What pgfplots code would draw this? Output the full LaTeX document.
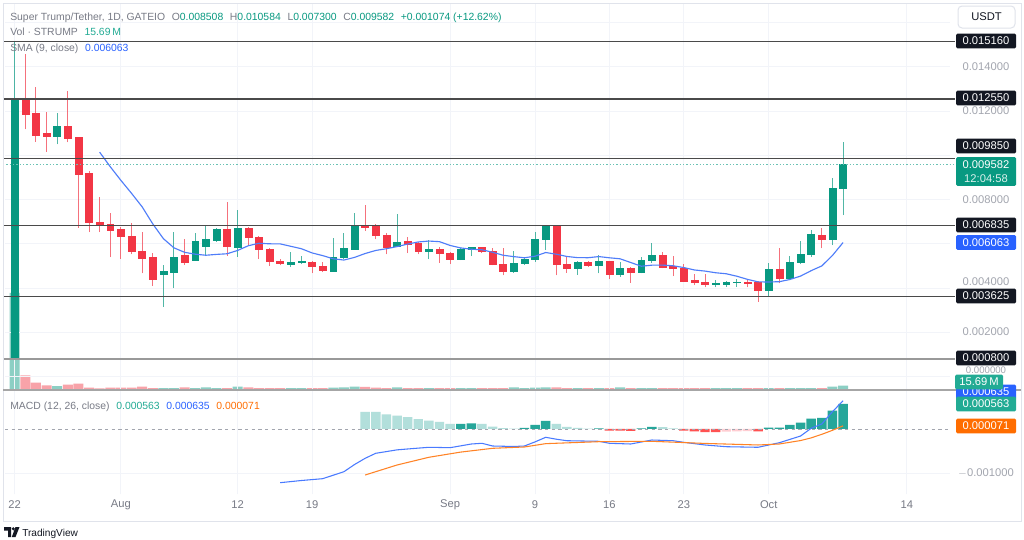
\documentclass[border=0pt]{standalone}
\usepackage{fontspec}
\setmainfont{Liberation Sans}
\usepackage{pgfplots}
\usepackage{pgfplotstable}
\pgfplotsset{compat=1.18}

\definecolor{upc}{HTML}{089981}
\definecolor{dnc}{HTML}{F23645}
\definecolor{volup}{HTML}{8CCFC4}
\definecolor{voldn}{HTML}{F8A3A9}
\definecolor{smac}{HTML}{4F7DF9}
\definecolor{macdc}{HTML}{2962FF}
\definecolor{sigc}{HTML}{FF6D00}
\definecolor{hdark}{HTML}{26A69A}
\definecolor{hlight}{HTML}{B2DFDB}
\definecolor{hred}{HTML}{FF5252}
\definecolor{hpink}{HTML}{FFCDD2}
\definecolor{txtg}{HTML}{787B86}
\definecolor{axg}{HTML}{A3A6AF}
\definecolor{gridc}{HTML}{F2F4F9}
\definecolor{lvl}{HTML}{4A4A4A}
\definecolor{boxk}{HTML}{131722}
\definecolor{tealv}{HTML}{22AB94}
\definecolor{framec}{HTML}{E0E3EB}

\newcommand\hdr{\fontsize{7.8pt}{9pt}\selectfont}
\newcommand\axf{\fontsize{8.4pt}{10pt}\selectfont}

\pgfplotstableread{
d o h l c v up
0 0.00080 0.01516 0.00080 0.01255 354.1 1
1 0.01254 0.01458 0.01118 0.01187 53.7 0
2 0.01190 0.01308 0.01062 0.01091 26.6 0
3 0.01098 0.01198 0.01017 0.01085 17.2 0
4 0.01085 0.01193 0.01050 0.01133 14.6 1
5 0.01133 0.01291 0.01059 0.01077 19.3 0
6 0.01080 0.01085 0.00673 0.00917 23.0 0
7 0.00919 0.00928 0.00653 0.00696 8.4 0
8 0.00699 0.00813 0.00653 0.00690 6.2 0
9 0.00690 0.00738 0.00540 0.00663 8.4 0
10 0.00666 0.00678 0.00531 0.00633 8.4 0
11 0.00636 0.00696 0.00553 0.00565 8.4 0
12 0.00568 0.00653 0.00467 0.00535 12.0 0
13 0.00538 0.00558 0.00410 0.00440 7.3 0
14 0.00465 0.00503 0.00316 0.00476 7.3 1
15 0.00473 0.00654 0.00402 0.00542 7.3 1
16 0.00550 0.00621 0.00505 0.00515 9.9 0
17 0.00527 0.00651 0.00523 0.00613 7.3 1
18 0.00588 0.00681 0.00545 0.00621 9.9 1
19 0.00618 0.00673 0.00609 0.00667 7.3 1
20 0.00666 0.00791 0.00547 0.00591 7.3 0
21 0.00587 0.00753 0.00542 0.00672 12.0 1
22 0.00672 0.00678 0.00595 0.00630 9.9 0
23 0.00630 0.00636 0.00531 0.00576 7.3 0
24 0.00577 0.00580 0.00502 0.00520 7.3 0
25 0.00523 0.00531 0.00503 0.00512 7.3 0
26 0.00509 0.00564 0.00497 0.00515 7.3 1
27 0.00517 0.00545 0.00509 0.00522 7.3 1
28 0.00518 0.00523 0.00467 0.00497 7.3 0
29 0.00497 0.00520 0.00473 0.00482 7.3 0
30 0.00478 0.00625 0.00478 0.00541 8.4 1
31 0.00540 0.00651 0.00531 0.00580 9.9 1
32 0.00576 0.00741 0.00573 0.00684 12.0 1
33 0.00684 0.00775 0.00660 0.00677 11.0 0
34 0.00678 0.00690 0.00621 0.00637 8.4 0
35 0.00639 0.00651 0.00553 0.00585 7.3 0
36 0.00588 0.00735 0.00585 0.00609 9.9 1
37 0.00610 0.00630 0.00558 0.00600 7.3 0
38 0.00603 0.00610 0.00553 0.00568 7.3 0
39 0.00569 0.00618 0.00531 0.00577 7.3 1
40 0.00576 0.00588 0.00515 0.00556 7.3 0
41 0.00558 0.00564 0.00509 0.00529 7.3 0
42 0.00529 0.00580 0.00527 0.00577 7.3 1
43 0.00577 0.00588 0.00545 0.00583 7.3 1
44 0.00583 0.00588 0.00558 0.00565 7.3 0
45 0.00568 0.00580 0.00503 0.00506 7.3 0
46 0.00508 0.00583 0.00458 0.00478 7.3 0
47 0.00478 0.00569 0.00470 0.00512 9.9 1
48 0.00511 0.00542 0.00505 0.00531 7.3 1
49 0.00531 0.00654 0.00520 0.00621 8.4 1
50 0.00621 0.00681 0.00573 0.00678 9.9 1
51 0.00678 0.00681 0.00458 0.00508 9.9 0
52 0.00508 0.00542 0.00470 0.00491 7.3 0
53 0.00491 0.00524 0.00461 0.00518 7.3 1
54 0.00518 0.00524 0.00497 0.00503 7.3 0
55 0.00503 0.00550 0.00467 0.00523 7.3 1
56 0.00523 0.00524 0.00440 0.00464 7.3 0
57 0.00464 0.00520 0.00452 0.00490 9.9 1
58 0.00490 0.00494 0.00425 0.00470 7.3 0
59 0.00470 0.00542 0.00467 0.00527 7.3 1
60 0.00527 0.00603 0.00515 0.00550 7.3 1
61 0.00550 0.00565 0.00490 0.00494 7.3 0
62 0.00497 0.00545 0.00455 0.00490 7.3 0
63 0.00490 0.00509 0.00429 0.00432 7.3 0
64 0.00434 0.00464 0.00414 0.00425 7.3 0
65 0.00427 0.00464 0.00404 0.00418 7.3 0
66 0.00419 0.00437 0.00404 0.00422 7.3 1
67 0.00419 0.00434 0.00407 0.00429 7.3 1
68 0.00425 0.00440 0.00407 0.00427 7.3 1
69 0.00429 0.00437 0.00404 0.00422 7.3 0
70 0.00425 0.00431 0.00339 0.00392 7.3 0
71 0.00392 0.00512 0.00365 0.00485 7.3 1
72 0.00485 0.00580 0.00422 0.00445 7.3 0
73 0.00445 0.00545 0.00437 0.00515 7.3 1
74 0.00515 0.00615 0.00509 0.00555 7.3 1
75 0.00553 0.00663 0.00542 0.00644 7.3 1
76 0.00640 0.00671 0.00580 0.00621 7.3 0
77 0.00621 0.00897 0.00595 0.00851 12.0 1
78 0.008508 0.010584 0.00730 0.009582 15.69 1
}\candles

\pgfplotstableread{
d s
8 0.010146
9 0.009488
10 0.008872
11 0.008288
12 0.007677
13 0.006907
14 0.006239
15 0.005822
16 0.005621
17 0.005536
18 0.005489
19 0.005527
20 0.005556
21 0.005708
22 0.005919
23 0.006030
24 0.006006
25 0.006002
26 0.005893
27 0.005783
28 0.005594
29 0.005473
30 0.005328
31 0.005272
32 0.005392
33 0.005567
34 0.005706
35 0.005783
36 0.005880
37 0.005994
38 0.006090
39 0.006130
40 0.006103
41 0.005931
42 0.005820
43 0.005760
44 0.005738
45 0.005623
46 0.005488
47 0.005426
48 0.005374
49 0.005447
50 0.005612
51 0.005536
52 0.005433
53 0.005381
54 0.005378
55 0.005428
56 0.005374
57 0.005329
58 0.005161
59 0.004993
60 0.005040
61 0.005043
62 0.005012
63 0.004933
64 0.004824
65 0.004773
66 0.004698
67 0.004652
68 0.004541
69 0.004399
70 0.004286
71 0.004280
72 0.004294
73 0.004394
74 0.004547
75 0.004793
76 0.005007
77 0.005478
78 0.006063
}\smatab

\pgfplotstableread{
d m
25 -0.001209
27 -0.001160
29 -0.001119
31 -0.000962
32 -0.000800
33 -0.000660
34 -0.000547
36 -0.000470
37 -0.000450
39 -0.000412
41 -0.000421
43 -0.000338
44 -0.000322
45 -0.000383
47 -0.000394
48 -0.000383
49 -0.000290
50 -0.000187
51 -0.000230
52 -0.000264
55 -0.000277
56 -0.000322
58 -0.000338
60 -0.000248
62 -0.000264
63 -0.000300
65 -0.000360
67 -0.000399
70 -0.000412
72 -0.000309
74 -0.000158
75 0.000016
76 0.000113
77 0.000390
78 0.000635
}\macdtab

\pgfplotstableread{
d s
33 -0.001036
36 -0.000811
39 -0.000637
42 -0.000520
45 -0.000435
48 -0.000405
50 -0.000330
55 -0.000286
60 -0.000277
65 -0.000325
70 -0.000360
72 -0.000338
74 -0.000260
75 -0.000200
76 -0.000120
77 -0.000030
78 0.000071
}\sigtab

\pgfplotstableread{
d hv hc
33 0.000383 2
34 0.000383 2
35 0.000331 2
36 0.000300 2
37 0.000270 2
38 0.000225 2
39 0.000187 2
40 0.000158 2
41 0.000113 2
42 0.000118 1
43 0.000128 1
44 0.000113 2
45 0.000052 2
46 0.000020 2
47 0.000008 2
48 0.000023 1
49 0.000090 1
50 0.000180 1
51 0.000113 2
52 0.000045 2
53 0.000023 2
54 0.000008 2
55 0.000016 1
56 -0.000035 3
57 -0.000038 3
58 -0.000040 3
59 0.000016 1
60 0.000045 1
61 0.000043 2
62 0.000016 2
63 -0.000038 3
64 -0.000052 3
65 -0.000068 3
66 -0.000070 3
67 -0.000061 4
68 -0.000052 4
69 -0.000050 4
70 -0.000055 3
71 0.000029 1
72 0.000030 1
73 0.000090 1
74 0.000142 1
75 0.000232 1
76 0.000248 1
77 0.000412 1
78 0.000563 1
}\histtab

\begin{document}
\begin{tikzpicture}[x=0.75pt,y=-0.75pt]
\useasboundingbox (0,0) rectangle (1024,539);
\fill[white] (0,0) rectangle (1024,539);

% ---------- volume (behind) ----------
\begin{axis}[at={(3.75pt,-292.5pt)}, anchor=south west, scale only axis,
  width=708.75pt, height=289.5pt,
  xmin=-0.913, xmax=88.07, ymin=0, ymax=1408.9, hide axis]
\addplot[ybar, bar width=7.5pt, bar shift=0pt, fill=volup, draw=none,
  restrict expr to domain={\thisrow{up}}{0.5:1.5}] table[x=d,y=v]{\candles};
\addplot[ybar, bar width=7.5pt, bar shift=0pt, fill=voldn, draw=none,
  restrict expr to domain={\thisrow{up}}{-0.5:0.5}] table[x=d,y=v]{\candles};
\end{axis}

% ---------- main price pane ----------
\begin{axis}[at={(3.75pt,-292.5pt)}, anchor=south west, scale only axis,
  width=708.75pt, height=289.5pt,
  xmin=-0.913, xmax=88.07, ymin=-0.000601, ymax=0.016843,
  clip=false, axis line style={draw=none}, tick style={draw=none},
  scaled ticks=false,
  xtick={0,10,21,28,41,49,56,63,71,84}, xticklabels={},
  ytick={0,0.002,0.004,0.006,0.008,0.01,0.012,0.014,0.016}, yticklabels={},
  grid=major, major grid style={gridc, line width=0.75pt}]
\addplot[draw=none, forget plot] coordinates {(0,0.005)};
\pgfplotstablegetrowsof{\candles}
\pgfmathtruncatemacro{\nrows}{\pgfplotsretval-1}
\pgfplotsforeachungrouped \i in {0,...,\nrows}{%
  \pgfplotstablegetelem{\i}{d}\of\candles\let\cd\pgfplotsretval
  \pgfplotstablegetelem{\i}{o}\of\candles\let\co\pgfplotsretval
  \pgfplotstablegetelem{\i}{h}\of\candles\let\ch\pgfplotsretval
  \pgfplotstablegetelem{\i}{l}\of\candles\let\cl\pgfplotsretval
  \pgfplotstablegetelem{\i}{c}\of\candles\let\cc\pgfplotsretval
  \pgfplotstablegetelem{\i}{up}\of\candles\let\cu\pgfplotsretval
  \ifnum\cu=1 \def\col{upc}\else\def\col{dnc}\fi
  \edef\tmp{\noexpand\draw[\col, line width=0.75pt, opacity=0.7] (axis cs:\cd,\cl) -- (axis cs:\cd,\ch);
    \noexpand\filldraw[\col, line width=0.4pt] ([xshift=-2.6pt]axis cs:\cd,\co) rectangle ([xshift=2.6pt]axis cs:\cd,\cc);}%
  \tmp
}
\addplot[smac, line width=0.85pt, mark=none] table[x=d,y=s]{\smatab};
% horizontal levels
\draw[lvl, line width=1pt] (axis cs:-1.1,0.01516) -- (axis cs:88.54,0.01516);
\draw[lvl, line width=1pt] (axis cs:-1.1,0.01255) -- (axis cs:88.54,0.01255);
\draw[lvl, line width=1pt] (axis cs:-1.1,0.00985) -- (axis cs:88.54,0.00985);
\draw[lvl, line width=1pt] (axis cs:-1.1,0.006835) -- (axis cs:88.54,0.006835);
\draw[lvl, line width=1pt] (axis cs:-1.1,0.003625) -- (axis cs:88.54,0.003625);
\draw[gray!80, line width=1.2pt] (axis cs:-1.1,0.0008) -- (axis cs:88.54,0.0008);
\draw[upc!60, line width=0.75pt, dash pattern=on 1pt off 1.5pt] (axis cs:-1.1,0.009582) -- (axis cs:88.54,0.009582);
\end{axis}

% ---------- MACD pane ----------
\begin{axis}[at={(3.75pt,-370.5pt)}, anchor=south west, scale only axis,
  width=708.75pt, height=78pt,
  xmin=-0.913, xmax=88.07, ymin=-0.001464, ymax=0.000878,
  clip=false, axis line style={draw=none}, tick style={draw=none},
  scaled ticks=false,
  xtick={0,10,21,28,41,49,56,63,71,84},
  xticklabels={22,Aug,12,19,Sep,9,16,23,Oct,14},
  xticklabel style={font=\axf, text=txtg, anchor=center, yshift=-8.25pt},
  ytick={-0.001}, yticklabels={},
  grid=major, major grid style={gridc, line width=0.75pt}]
\addplot[ybar, bar width=7.1pt, bar shift=0pt, fill=hdark, draw=none,
  restrict expr to domain={\thisrow{hc}}{0.5:1.5}] table[x=d,y=hv]{\histtab};
\addplot[ybar, bar width=7.1pt, bar shift=0pt, fill=hlight, draw=none,
  restrict expr to domain={\thisrow{hc}}{1.5:2.5}] table[x=d,y=hv]{\histtab};
\addplot[ybar, bar width=7.1pt, bar shift=0pt, fill=hred, draw=none,
  restrict expr to domain={\thisrow{hc}}{2.5:3.5}] table[x=d,y=hv]{\histtab};
\addplot[ybar, bar width=7.1pt, bar shift=0pt, fill=hpink, draw=none,
  restrict expr to domain={\thisrow{hc}}{3.5:4.5}] table[x=d,y=hv]{\histtab};
\draw[axg, line width=0.6pt, dash pattern=on 2.5pt off 2.5pt] (axis cs:-0.913,0) -- (axis cs:88.07,0);
\addplot[macdc!85, line width=0.8pt, mark=none] table[x=d,y=m]{\macdtab};
\addplot[sigc!85, line width=0.8pt, mark=none] table[x=d,y=s]{\sigtab};
\end{axis}

% ---------- frame and separators ----------
\draw[framec, line width=0.75pt] (3,3) rectangle (1021,521);
\draw[gray!70, line width=1.1pt] (3,390) -- (1021,390);

% ---------- header ----------
\node[anchor=base west, inner sep=0, font=\hdr] at (10,20) {\color{txtg}Super Trump/Tether, 1D, GATEIO\hspace{5pt}O\color{upc}0.008508\hspace{5pt}\color{txtg}H\color{upc}0.010584\hspace{5pt}\color{txtg}L\color{upc}0.007300\hspace{5pt}\color{txtg}C\color{upc}0.009582\hspace{5pt}+0.001074 (+12.62\%)};
\node[anchor=base west, inner sep=0, font=\hdr] at (10,35) {\color{txtg}Vol · STRUMP\hspace{5pt}\color{tealv}15.69\,M};
\node[anchor=base west, inner sep=0, font=\hdr] at (10,51) {\color{txtg}SMA (9, close)\hspace{5pt}\color{macdc}0.006063};
\node[anchor=base west, inner sep=0, font=\hdr] at (10,409) {\color{txtg}MACD (12, 26, close)\hspace{5pt}\color{tealv}0.000563\hspace{5pt}\color{macdc}0.000635\hspace{5pt}\color{sigc}0.000071};

% ---------- right price scale ----------
\draw[framec, line width=0.75pt, rounded corners=3pt] (958,6) rectangle (1015,28);
\node[font=\axf, text=boxk] at (986.5,17) {USDT};
\foreach \yy/\tt in {67/0.014000, 111/0.012000, 200/0.008000, 282/0.004000, 332/0.002000, 473/{$-$0.001000}}
  \node[font=\axf, text=axg, inner sep=0] at (986,\yy) {\tt};
\node[font=\fontsize{7.2pt}{8pt}\selectfont, text=axg, inner sep=0] at (986,369.8) {0.000000};
\tikzset{lb/.style={inner sep=0, minimum width=45pt, minimum height=11pt, rounded corners=1pt, font=\axf, text=white}}
\node[lb, fill=boxk] at (986,41) {0.015160};
\node[lb, fill=boxk] at (986,98) {0.012550};
\node[lb, fill=boxk] at (986,146) {0.009850};
\node[lb, fill=upc, minimum height=21.5pt] at (986,171.5) {};
\node[font=\axf, text=white, inner sep=0] at (986,165) {0.009582};
\node[font=\axf, text=white!85!upc, inner sep=0] at (986,178.5) {12:04:58};
\node[lb, fill=boxk] at (986,225) {0.006835};
\node[lb, fill=macdc] at (986,242.5) {0.006063};
\node[lb, fill=boxk] at (986,296) {0.003625};
\node[lb, fill=boxk] at (986,358) {0.000800};
\node[lb, fill=macdc] at (986,392) {0.000635};
\node[lb, fill=tealv, minimum width=36pt] at (979,382) {15.69\,M};
\node[lb, fill=tealv] at (986,404) {0.000563};
\node[lb, fill=sigc] at (986,426) {0.000071};

% ---------- watermark ----------
\fill[boxk] (4,527) -- (11,527) -- (11,537) -- (8,537) -- (8,530.5) -- (4,530.5) -- cycle;
\fill[boxk] (13.3,528.8) circle (1.7);
\fill[boxk] (15.5,527) -- (19.5,527) -- (15.5,537) -- (11.8,537) -- cycle;
\node[anchor=base west, inner sep=0, font=\fontsize{7.6pt}{9pt}\selectfont, text=boxk] at (22,536) {TradingView};
\end{tikzpicture}
\end{document}
